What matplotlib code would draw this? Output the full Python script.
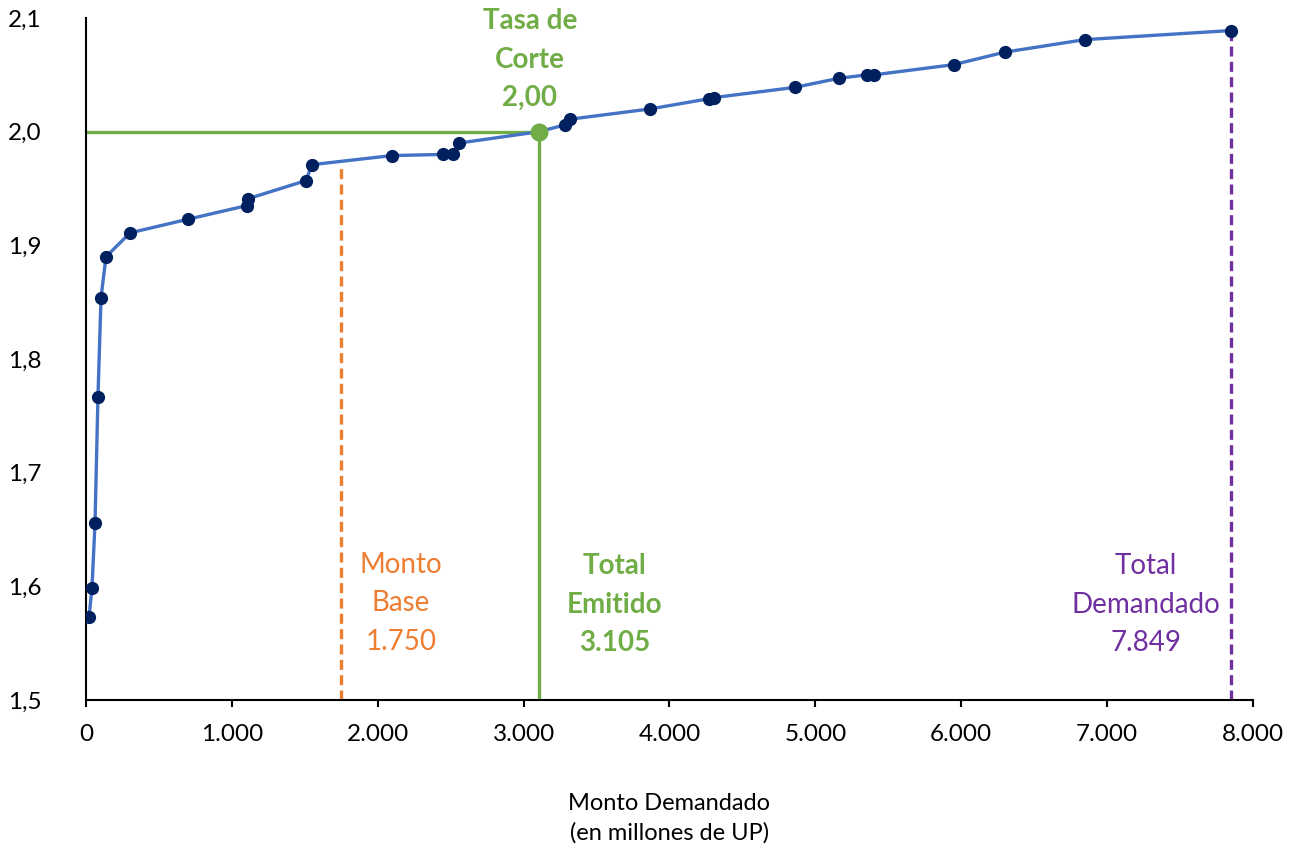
import matplotlib
matplotlib.use("Agg")
import matplotlib.pyplot as plt
from matplotlib.ticker import FuncFormatter

plt.rcParams['font.family'] = ['Lato', 'DejaVu Sans']

# datos de la curva de demanda (monto acumulado, tasa)
monto = [21, 41, 62, 82, 103, 137, 302, 699, 1103, 1110, 1508, 1549, 2097, 2447,
         2515, 2557, 3105, 3283, 3317, 3866, 4270, 4304, 4859, 5161, 5353, 5401,
         5949, 6299, 6847, 7849]
tasa = [1.573, 1.599, 1.656, 1.767, 1.854, 1.890, 1.911, 1.923, 1.935, 1.941,
        1.957, 1.971, 1.979, 1.980, 1.980, 1.990, 2.000, 2.006, 2.011, 2.020,
        2.029, 2.030, 2.039, 2.047, 2.050, 2.050, 2.059, 2.070, 2.081, 2.089]

tasa_corte = 2.00
monto_base = 1750
total_emitido = 3105
total_demandado = 7849

azul = '#4472C4'
marino = '#002060'
verde = '#70AD47'
naranja = '#ED7D31'
violeta = '#7030A0'

fig = plt.figure(figsize=(13.03, 8.51), dpi=100)
ax = fig.add_axes([0.066, 0.1774, 0.8956, 0.8014])

# lineas de referencia
ax.plot([0, total_emitido], [tasa_corte, tasa_corte], color=verde, lw=2.4, zorder=2)
ax.plot([total_emitido, total_emitido], [1.5, tasa_corte], color=verde, lw=2.4, zorder=2)
tasa_base = 1.972
ax.plot([monto_base, monto_base], [1.5, tasa_base], color=naranja, lw=2.4,
        linestyle=(0, (3, 1.6)), zorder=2)
ax.plot([total_demandado, total_demandado], [1.5, tasa[-1]], color=violeta, lw=2.4,
        linestyle=(0, (3, 1.6)), zorder=2)

# curva
ax.plot(monto, tasa, color=azul, lw=2.4, zorder=3)
puntos_m = [m for m in monto if m != total_emitido]
puntos_t = [t for m, t in zip(monto, tasa) if m != total_emitido]
ax.plot(puntos_m, puntos_t, 'o', color=marino, ms=8.5, zorder=4)
ax.plot([total_emitido], [tasa_corte], 'o', color=verde, ms=12, zorder=5)

# textos
ax.text(3043, 2.0635, 'Tasa de\nCorte\n2,00', color=verde, fontsize=20, fontweight='bold',
        ha='center', va='center', linespacing=1.6)
ax.text(2159, 1.585, 'Monto\nBase\n1.750', color=naranja, fontsize=20,
        ha='center', va='center', linespacing=1.6)
ax.text(3626, 1.584, 'Total\nEmitido\n3.105', color=verde, fontsize=20, fontweight='bold',
        ha='center', va='center', linespacing=1.6)
ax.text(7265, 1.584, 'Total\nDemandado\n7.849', color=violeta, fontsize=20,
        ha='center', va='center', linespacing=1.6)

ax.set_xlim(0, 8000)
ax.set_ylim(1.5, 2.1)
ax.set_xticks(range(0, 8001, 1000))
ax.set_yticks([1.5, 1.6, 1.7, 1.8, 1.9, 2.0, 2.1])
ax.xaxis.set_major_formatter(FuncFormatter(lambda v, p: f'{int(v):,}'.replace(',', '.')))
ax.yaxis.set_major_formatter(FuncFormatter(lambda v, p: f'{v:.1f}'.replace('.', ',')))
ax.tick_params(axis='x', length=5, width=1.5, labelsize=17.5, pad=12, direction='out')
ax.tick_params(axis='y', length=0, labelsize=17.5, pad=32)

for s in ['top', 'right']:
    ax.spines[s].set_visible(False)
for s in ['left', 'bottom']:
    ax.spines[s].set_linewidth(1.5)
    ax.spines[s].set_color('black')

ax.set_xlabel('Monto Demandado\n(en millones de UP)', fontsize=17, labelpad=35,
              linespacing=1.45)

fig.savefig('out.png', dpi=100)
